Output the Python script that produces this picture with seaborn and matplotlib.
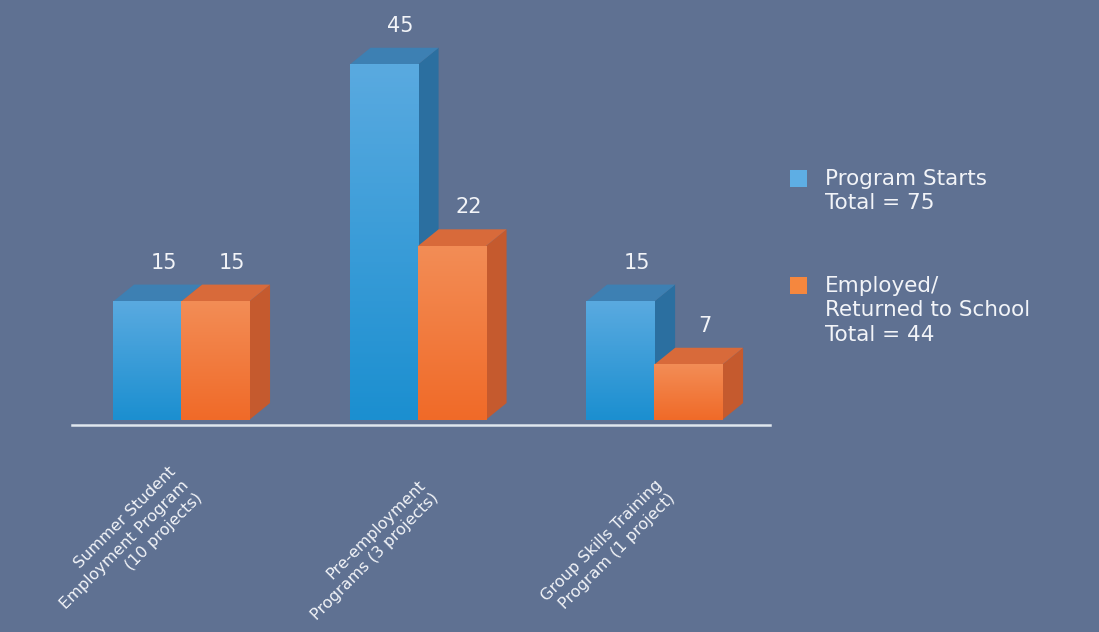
import numpy as np
import pandas as pd
import matplotlib
matplotlib.use("Agg")
import matplotlib.pyplot as plt
import seaborn as sns
from matplotlib.colors import LinearSegmentedColormap
from matplotlib.patches import Polygon, Rectangle

# ---- data ----
categories = [
    "Summer Student\nEmployment Program\n(10 projects)",
    "Pre-employment\nPrograms (3 projects)",
    "Group Skills Training\nProgram (1 project)",
]
series = ["Program Starts", "Employed/\nReturned to School"]
program_starts = [15, 45, 15]
employed = [15, 22, 7]

df = pd.DataFrame({
    "category": categories * 2,
    "series": [series[0]] * len(categories) + [series[1]] * len(categories),
    "value": program_starts + employed,
})
totals = [sum(program_starts), sum(employed)]

# ---- style ----
BG = "#5f7192"
FRONT_BOTTOM = ["#1b8fd0", "#f06a28"]
FRONT_TOP = ["#5aaae0", "#f38d56"]
SIDE = ["#2b6fa0", "#c55a2e"]
TOP = ["#3d80b3", "#d86a3a"]
LEGEND_SQ = ["#5eaee4", "#f5873e"]
TXT = "#f2f4f8"

sns.set_theme(style="white")
plt.rcParams["font.family"] = ["DejaVu Sans"]

W, H = 1099, 632
fig = plt.figure(figsize=(W / 100, H / 100), dpi=100, facecolor=BG)
ax = fig.add_axes([72 / W, 207 / H, 698 / W, 425 / H])
ax.set_facecolor(BG)

sns.barplot(data=df, x="category", y="value", hue="series", order=categories,
            hue_order=series, palette=FRONT_BOTTOM, width=0.575, saturation=1,
            errorbar=None, legend=False, ax=ax)

XL = (-0.461, 2.49)
YL = (-0.63, 53.2)
ax.set_xlim(*XL)
ax.set_ylim(*YL)
ax.set_xticks([])
ax.set_yticks([])
ax.set_xlabel("")
ax.set_ylabel("")
for s in ["top", "right", "left"]:
    ax.spines[s].set_visible(False)
ax.spines["bottom"].set_color("#dfe7ef")
ax.spines["bottom"].set_linewidth(1.8)

# depth of the 3D effect in pixels -> data units
px_per_x = ax.bbox.width / (XL[1] - XL[0])
px_per_y = ax.bbox.height / (YL[1] - YL[0])
DX_PX, DY_PX = 21, 17
dx = DX_PX / px_per_x
dy = DY_PX / px_per_y

grad = np.linspace(0, 1, 256).reshape(-1, 1)
for k, cont in enumerate(ax.containers):
    cmap = LinearSegmentedColormap.from_list(f"g{k}", [FRONT_BOTTOM[k], FRONT_TOP[k]])
    z = 2 + 2 * k
    for bar in cont:
        x0 = bar.get_x()
        w = bar.get_width()
        h = bar.get_height()
        bar.set_zorder(z)
        bar.set_edgecolor("none")
        ax.imshow(grad, extent=(x0, x0 + w, 0, h), origin="lower", cmap=cmap,
                  aspect="auto", zorder=z + 0.1, interpolation="bilinear")
        x1 = x0 + w
        ax.add_patch(Polygon([(x1, 0), (x1, h), (x1 + dx, h + dy), (x1 + dx, dy)],
                             closed=True, facecolor=SIDE[k], edgecolor="none", zorder=z))
        ax.add_patch(Polygon([(x0, h), (x1, h), (x1 + dx, h + dy), (x0 + dx, h + dy)],
                             closed=True, facecolor=TOP[k], edgecolor="none", zorder=z))
        ax.annotate(f"{int(h)}", xy=(x0 + w / 2, h), xytext=(17 * 0.72, (DY_PX + 22) * 0.72),
                    textcoords="offset points", ha="center", va="center",
                    fontsize=15, color=TXT, zorder=10, annotation_clip=False)

ax.set_xlim(*XL)
ax.set_ylim(*YL)

# category labels
for i, cat in enumerate(categories):
    ax.annotate(cat, xy=(i, 0), xycoords=ax.get_xaxis_transform(),
                xytext=(24 * 0.72, -76 * 0.72), textcoords="offset points",
                rotation=45, rotation_mode="anchor", ha="right", va="bottom",
                multialignment="right", fontsize=11.5, color=TXT, linespacing=1.3,
                annotation_clip=False)

# legend
leg_tops = [169, 276]
for k, name in enumerate(series):
    sq_top = leg_tops[k] + 1
    fig.patches.append(Rectangle((790 / W, 1 - (sq_top + 17) / H), 17 / W, 17 / H,
                                 transform=fig.transFigure, facecolor=LEGEND_SQ[k],
                                 edgecolor="none"))
    fig.text(825 / W, 1 - leg_tops[k] / H, f"{name}\nTotal = {totals[k]}",
             ha="left", va="top", fontsize=15.5, color=TXT, linespacing=1.28)

fig.savefig("out.png", dpi=100, facecolor=BG)
